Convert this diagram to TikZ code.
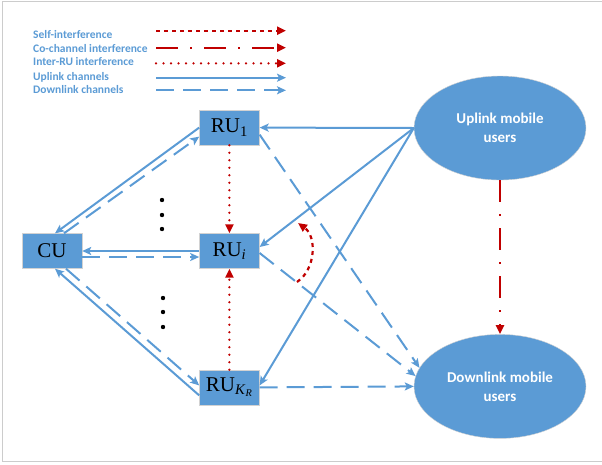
\documentclass[tikz,border=0pt]{standalone}
\usepackage{fontspec}
\setmainfont{Liberation Serif}
\newfontfamily\calib{Carlito}
\usetikzlibrary{arrows.meta,positioning,shapes.geometric}
\definecolor{ublue}{HTML}{5B9BD5}
\definecolor{ired}{HTML}{C00000}

\begin{document}
\begin{tikzpicture}[x=1pt, y=-1pt,
  unit/.style={draw=gray!35, fill=ublue, minimum width=60pt,
               minimum height=35pt, inner sep=0pt,
               font=\fontsize{21}{24}\selectfont},
  users/.style={ellipse, draw=gray!35, fill=ublue, minimum width=172pt,
                minimum height=104pt, align=center, text=white,
                font=\calib\bfseries\fontsize{15}{19}\selectfont},
  lab/.style={anchor=west, text=ublue, inner sep=0pt,
              font=\calib\bfseries\fontsize{11.5}{13}\selectfont},
  ul/.style={ublue, line width=2pt, -{Stealth[length=9pt,width=8pt,inset=2pt]}},
  dl/.style={ul, dash pattern=on 18pt off 9pt},
  si/.style={ired, line width=2.2pt, dash pattern=on 4pt off 4pt,
             -{Triangle[length=9pt,width=8pt]}},
  cci/.style={si, dash pattern=on 22pt off 12pt on 2pt off 12pt},
  iru/.style={si, line width=2.5pt, line cap=round, dash pattern=on 0pt off 7.5pt}
]
  \useasboundingbox (0,0) rectangle (602,464);
  \draw[gray!40, line width=1pt] (2.5,1.5) rectangle (610,461);

  % legend
  \foreach \ty/\ly/\sty/\txt [count=\k] in
    {35/30.7/si/Self-interference, 49/47.7/cci/Co-channel interference,
     62/63.3/iru/Inter-RU interference, 77/77.7/ul/Uplink channels,
     90/90.3/dl/Downlink channels}{
    \node[lab] (L\k) at (33,\ty) {\txt};
    \coordinate (La\k) at (156,\ly);
    \coordinate (Lb\k) at (286,\ly);
    \draw[\sty] (La\k) -- (Lb\k);
  }

  \node[unit] (CU) at (52,251) {CU};
  \node[unit, right=117pt of CU] (RUi) {RU\textsubscript{\textit{i}}};
  \node[unit, above=88pt of RUi] (RU1) {RU\textsubscript{1}};
  \node[unit, below=101pt of RUi] (RUk)
    {RU\textsubscript{\textit{K}\textsubscript{\textit{R}}}};
  \node[users] (UL) at (500,128) {Uplink mobile\\users};
  \node[users, below=154pt of UL] (DL) {Downlink mobile\\users};

  \foreach \y in {200,215,229} \fill (162,\y) circle (2.2pt);
  \foreach \y in {298,312,327} \fill (163,\y) circle (2.2pt);

  % uplink
  \draw[ul] (UL.west) -- (RU1.east);
  \draw[ul] (UL.west) -- ([yshift=4pt]RUi.east);
  \draw[ul] (UL.west) -- ([yshift=2pt]RUk.east);
  \draw[ul] (RU1.west) -- ([xshift=3pt]CU.north);
  \draw[ul] (RUi.west) -- (CU.east);
  \draw[ul] ([yshift=-8pt]RUk.west) -- ([xshift=3pt]CU.south);

  % downlink
  \draw[dl] ([xshift=12pt]CU.north) -- ([yshift=-9pt]RU1.west);
  \draw[dl] ([yshift=-6pt]CU.east) -- ([yshift=-6pt]RUi.west);
  \draw[dl] ([xshift=14pt]CU.south) -- ([yshift=2pt]RUk.west);
  \draw[dl] ([yshift=-7pt]RU1.east) -- (DL.167);
  \draw[dl] ([yshift=-2pt]RUi.east) -- (DL.173);
  \draw[dl] (RUk.east) -- (DL.west);

  % interference
  \draw[iru] (RU1.south) -- (RUi.north);
  \draw[iru] (RUk.north) -- (RUi.south);
  \draw[cci] (UL.south) -- (DL.north);
  \coordinate (SIa) at (297,282);
  \coordinate (SIb) at (298,223);
  \draw[si] (SIa) to[bend right=55] (SIb);
\end{tikzpicture}
\end{document}
